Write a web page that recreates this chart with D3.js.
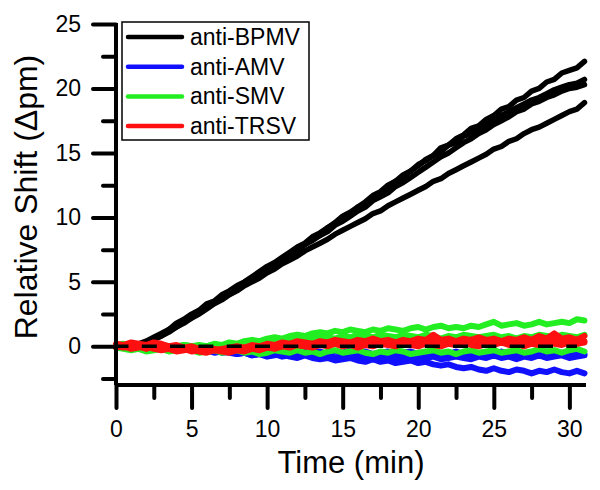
<!DOCTYPE html>
<html>
<head>
<meta charset="utf-8">
<script src="https://cdn.jsdelivr.net/npm/d3@7"></script>
<style>
  html, body { margin: 0; padding: 0; background: #fff; }
  svg { display: block; }
  text { font-family: "Liberation Sans", Arial, sans-serif; fill: #000; }
</style>
</head>
<body>
<svg id="chart" width="600" height="490"></svg>
<script>
// ---------------- DATA ----------------
const time = [
  0, 0.5, 1, 1.5, 2, 2.5, 3, 3.5, 4, 4.5,
  5, 5.5, 6, 6.5, 7, 7.5, 8, 8.5, 9, 9.5,
  10, 10.5, 11, 11.5, 12, 12.5, 13, 13.5, 14, 14.5,
  15, 15.5, 16, 16.5, 17, 17.5, 18, 18.5, 19, 19.5,
  20, 20.5, 21, 21.5, 22, 22.5, 23, 23.5, 24, 24.5,
  25, 25.5, 26, 26.5, 27, 27.5, 28, 28.5, 29, 29.5,
  30, 30.5, 31
];

const bpmv1 = [
  0.1, 0.0, 0.1, 0.1, 0.3, 0.6, 0.8, 1.3, 1.6, 2.0,
  2.3, 2.7, 3.1, 3.4, 3.8, 4.1, 4.6, 4.8, 5.3, 5.6,
  6.1, 6.3, 6.8, 7.0, 7.6, 7.9, 8.4, 8.6, 9.2, 9.5,
  10.0, 10.2, 10.8, 11.0, 11.6, 11.9, 12.3, 12.8, 13.1, 13.6,
  14.0, 14.5, 14.8, 15.4, 15.6, 16.1, 16.4, 16.9, 17.1, 17.6,
  17.9, 18.4, 18.6, 19.1, 19.3, 19.8, 20.0, 20.5, 20.7, 21.2,
  21.4, 21.6, 22.1
];
const bpmv2 = [
  0.0, 0.1, 0.0, 0.2, 0.4, 0.7, 1.0, 1.3, 1.8, 2.1,
  2.5, 2.8, 3.3, 3.5, 4.0, 4.3, 4.7, 5.0, 5.4, 5.8,
  6.2, 6.5, 6.9, 7.3, 7.7, 8.0, 8.5, 8.8, 9.2, 9.6,
  10.1, 10.4, 10.8, 11.2, 11.7, 12.0, 12.5, 12.8, 13.3, 13.6,
  14.1, 14.4, 14.8, 15.1, 15.6, 15.8, 16.3, 16.5, 16.9, 17.2,
  17.6, 17.9, 18.2, 18.5, 18.8, 19.1, 19.3, 19.6, 19.9, 20.1,
  20.3, 20.4, 20.7
];
const bpmv3 = [
  0.0, 0.0, 0.1, 0.1, 0.3, 0.5, 0.9, 1.2, 1.5, 1.9,
  2.2, 2.6, 3.0, 3.4, 3.7, 4.1, 4.4, 4.9, 5.2, 5.6,
  5.9, 6.4, 6.7, 7.1, 7.4, 7.9, 8.2, 8.6, 8.9, 9.4,
  9.7, 10.1, 10.5, 10.8, 11.3, 11.6, 11.9, 12.4, 12.7, 13.1,
  13.5, 13.9, 14.3, 14.7, 15.0, 15.4, 15.8, 16.1, 16.5, 16.8,
  17.2, 17.5, 17.8, 18.2, 18.4, 18.8, 19.0, 19.3, 19.5, 19.8,
  20.0, 20.1, 20.3
];
const bpmv4 = [
  0.0, 0.1, 0.0, 0.1, 0.2, 0.5, 0.8, 1.1, 1.5, 1.8,
  2.2, 2.5, 2.9, 3.3, 3.6, 4.0, 4.3, 4.7, 5.0, 5.3,
  5.7, 6.0, 6.4, 6.7, 7.0, 7.4, 7.7, 8.0, 8.3, 8.7,
  9.0, 9.3, 9.6, 9.9, 10.3, 10.5, 10.9, 11.2, 11.5, 11.8,
  12.1, 12.4, 12.8, 13.0, 13.4, 13.7, 14.0, 14.3, 14.6, 14.9,
  15.3, 15.5, 15.9, 16.1, 16.5, 16.8, 17.0, 17.3, 17.6, 17.9,
  18.2, 18.4, 18.9
];

const amv1 = [
  0.1, 0.0, -0.1, 0.0, 0.1, -0.1, 0.0, -0.1, -0.2, -0.1,
  -0.3, -0.2, -0.4, -0.3, -0.5, -0.4, -0.6, -0.5, -0.7, -0.6,
  -0.8, -0.7, -0.6, -0.8, -0.9, -0.7, -0.9, -1.0, -0.9, -1.1,
  -1.0, -0.9, -1.1, -1.2, -1.0, -1.2, -1.1, -1.3, -1.2, -1.1,
  -1.3, -1.2, -1.4, -1.5, -1.4, -1.6, -1.7, -1.6, -1.8, -1.9,
  -1.7, -1.9, -2.0, -1.8, -1.9, -2.1, -1.9, -2.0, -1.8, -2.0,
  -2.1, -1.9, -2.1
];
const amv2 = [
  0.0, -0.1, 0.1, 0.0, -0.1, 0.0, -0.2, -0.1, -0.3, -0.2,
  -0.3, -0.4, -0.3, -0.5, -0.4, -0.5, -0.6, -0.5, -0.7, -0.6,
  -0.7, -0.6, -0.8, -0.7, -0.8, -0.6, -0.7, -0.8, -0.7, -0.9,
  -0.8, -0.7, -0.9, -0.8, -0.7, -0.9, -0.8, -1.0, -0.9, -0.8,
  -1.0, -0.9, -0.8, -1.0, -0.9, -0.8, -0.9, -1.0, -0.8, -0.9,
  -0.7, -0.9, -0.8, -1.0, -0.8, -0.9, -0.7, -0.9, -0.8, -0.7,
  -0.9, -0.8, -0.7
];
const amv3 = [
  0.1, 0.0, 0.1, -0.1, 0.0, 0.1, -0.1, 0.0, -0.1, -0.2,
  -0.1, -0.2, -0.3, -0.2, -0.3, -0.2, -0.4, -0.3, -0.2, -0.4,
  -0.3, -0.4, -0.3, -0.5, -0.4, -0.3, -0.5, -0.4, -0.6, -0.4,
  -0.5, -0.3, -0.5, -0.4, -0.6, -0.5, -0.4, -0.6, -0.5, -0.4,
  -0.6, -0.5, -0.7, -0.5, -0.6, -0.4, -0.6, -0.5, -0.7, -0.5,
  -0.6, -0.4, -0.6, -0.5, -0.7, -0.5, -0.6, -0.4, -0.6, -0.5,
  -0.7, -0.5, -0.6
];

const smv1 = [
  0.1, 0.2, 0.0, 0.1, -0.1, 0.0, 0.1, 0.0, -0.1, 0.1,
  0.0, 0.1, 0.0, 0.2, 0.1, 0.3, 0.2, 0.4, 0.5, 0.4,
  0.6, 0.7, 0.6, 0.8, 0.9, 0.8, 1.0, 1.1, 1.0, 1.2,
  1.1, 1.3, 1.2, 1.1, 1.3, 1.2, 1.4, 1.3, 1.2, 1.4,
  1.5, 1.3, 1.5, 1.6, 1.4, 1.5, 1.4, 1.6, 1.5, 1.7,
  1.9, 1.6, 1.7, 1.8, 1.6, 1.7, 1.9, 1.7, 1.8, 1.9,
  1.8, 2.1, 2.0
];
const smv2 = [
  -0.1, -0.2, -0.3, -0.2, -0.4, -0.3, -0.2, -0.4, -0.3, -0.2,
  -0.3, -0.5, -0.4, -0.3, -0.5, -0.4, -0.3, -0.5, -0.4, -0.6,
  -0.5, -0.3, -0.4, -0.5, -0.3, -0.5, -0.4, -0.6, -0.4, -0.3,
  -0.5, -0.4, -0.3, -0.5, -0.6, -0.4, -0.5, -0.3, -0.4, -0.6,
  -0.5, -0.4, -0.3, -0.5, -0.4, -0.6, -0.4, -0.3, -0.5, -0.4,
  -0.3, -0.5, -0.4, -0.3, -0.5, -0.4, -0.2, -0.4, -0.3, -0.5,
  -0.3, -0.2, -0.4
];
const smv3 = [
  0.0, 0.1, 0.2, 0.1, 0.0, 0.1, 0.0, -0.1, 0.0, 0.1,
  0.0, -0.1, 0.0, 0.1, 0.0, 0.2, 0.1, 0.3, 0.2, 0.4,
  0.3, 0.5, 0.4, 0.6, 0.5, 0.7, 0.6, 0.8, 0.7, 0.6,
  0.8, 0.7, 0.9, 0.8, 0.7, 0.9, 0.8, 0.7, 0.9, 0.8,
  0.7, 0.9, 0.8, 0.6, 0.8, 0.7, 0.9, 0.8, 0.7, 0.8,
  0.9, 0.7, 0.8, 0.6, 0.8, 0.7, 0.9, 0.8, 0.7, 0.9,
  0.8, 0.7, 0.9
];

const trsv1 = [
  0.2, 0.1, 0.3, 0.2, 0.1, 0.3, 0.2, 0.0, 0.1, -0.1,
  0.0, -0.2, -0.1, -0.3, -0.2, -0.1, 0.0, -0.1, 0.1, 0.0,
  0.2, 0.1, 0.3, 0.2, 0.4, 0.3, 0.2, 0.4, 0.3, 0.5,
  0.4, 0.3, 0.5, 0.4, 0.6, 0.4, 0.5, 0.3, 0.5, 0.4,
  0.6, 0.5, 0.9, 0.5, 0.6, 0.4, 0.6, 0.5, 0.7, 0.5,
  0.6, 0.4, 0.6, 0.5, 0.7, 0.5, 0.8, 0.6, 1.0, 0.6,
  0.7, 0.5, 0.8
];
const trsv2 = [
  0.0, -0.1, 0.1, 0.0, -0.2, 0.0, -0.1, -0.2, -0.3, -0.2,
  -0.4, -0.3, -0.4, -0.2, -0.3, -0.2, -0.3, -0.1, -0.2, 0.0,
  -0.1, 0.1, 0.0, 0.2, 0.1, 0.0, 0.2, 0.1, 0.3, 0.2,
  0.1, 0.3, 0.2, 0.1, 0.3, 0.2, 0.4, 0.2, 0.3, 0.1,
  0.3, 0.2, 0.4, 0.3, 0.2, 0.4, 0.3, 0.5, 0.3, 0.2,
  0.4, 0.3, 0.5, 0.3, 0.4, 0.2, 0.4, 0.3, 0.5, 0.4,
  0.3, 0.5, 0.4
];
const trsv3 = [
  -0.1, 0.0, -0.2, -0.1, 0.0, -0.2, -0.3, -0.2, -0.4, -0.3,
  -0.2, -0.4, -0.5, -0.3, -0.4, -0.5, -0.3, -0.4, -0.2, -0.3,
  -0.1, -0.2, 0.0, -0.1, 0.1, 0.0, -0.1, 0.1, 0.0, 0.2,
  0.0, 0.1, -0.1, 0.1, 0.0, 0.2, 0.1, 0.0, 0.2, 0.1,
  0.0, 0.2, 0.1, 0.0, 0.2, 0.1, 0.3, 0.1, 0.0, 0.2,
  0.1, 0.3, 0.1, 0.2, 0.0, 0.2, 0.1, 0.3, 0.2, 0.1,
  0.3, 0.2, 0.3
];

const seriesNames = ["anti-BPMV", "anti-AMV", "anti-SMV", "anti-TRSV"];
const seriesColors = ["#000000", "#1010ff", "#22ee22", "#ff1010"];
const seriesTraces = [
  [bpmv1, bpmv2, bpmv3, bpmv4],
  [amv1, amv2, amv3],
  [smv1, smv2, smv3],
  [trsv1, trsv2, trsv3]
];

const xTicks = [0, 5, 10, 15, 20, 25, 30];
const xMinorTicks = [2.5, 7.5, 12.5, 17.5, 22.5, 27.5];
const yTicks = [0, 5, 10, 15, 20, 25];
const yMinorTicks = [-2.5, 2.5, 7.5, 12.5, 17.5, 22.5];
const baselineRange = [0, 30.5];

// ---------------- CHART ----------------
const svg = d3.select("#chart");
const x = d3.scaleLinear().domain([0, 31.1]).range([116, 586]);
const y = d3.scaleLinear().domain([-3, 25]).range([385, 24]);

const line = d3.line().x((d, i) => x(time[i])).y(d => y(d));

const plot = svg.append("g");
seriesTraces.forEach((traces, s) => {
  traces.forEach(tr => {
    plot.append("path")
      .datum(tr)
      .attr("d", line)
      .attr("fill", "none")
      .attr("stroke", seriesColors[s])
      .attr("stroke-width", s === 0 ? 5.5 : 6)
      .attr("stroke-linejoin", "round")
      .attr("stroke-linecap", "round");
  });
});

// dashed zero line
svg.append("line")
  .attr("x1", x(baselineRange[0])).attr("x2", x(baselineRange[1]))
  .attr("y1", y(0)).attr("y2", y(0))
  .attr("stroke", "#000").attr("stroke-width", 3.5)
  .attr("stroke-dasharray", "15,13.3")
  .attr("stroke-dashoffset", 2.5);

// axes
function styleAxis(g) {
  g.selectAll(".domain").attr("stroke", "#000").attr("stroke-width", 4);
  g.selectAll(".tick line").attr("stroke", "#000").attr("stroke-width", 4).attr("stroke-linecap", "round");
  g.selectAll(".tick text").style("font-size", "23px").style("font-family", "'Liberation Sans', Arial, sans-serif");
}

const xAxis = svg.append("g").attr("transform", `translate(0,${y(-3)})`)
  .call(d3.axisBottom(x).tickValues(xTicks).tickSize(23).tickPadding(13).tickFormat(d3.format("d")));
styleAxis(xAxis);
xAxis.select(".domain").attr("d", `M${x(0)},0H${x(31.1)}`);

const xMinor = svg.append("g").attr("transform", `translate(0,${y(-3)})`)
  .call(d3.axisBottom(x).tickValues(xMinorTicks).tickSize(13).tickFormat(""));
styleAxis(xMinor);
xMinor.select(".domain").remove();

const yAxis = svg.append("g").attr("transform", `translate(${x(0)},0)`)
  .call(d3.axisLeft(y).tickValues(yTicks).tickSize(23).tickPadding(12).tickFormat(d3.format("d")));
styleAxis(yAxis);
yAxis.select(".domain").attr("d", `M0,${y(-3)}V${y(25) - 1}`);

const yMinor = svg.append("g").attr("transform", `translate(${x(0)},0)`)
  .call(d3.axisLeft(y).tickValues(yMinorTicks).tickSize(13).tickFormat(""));
styleAxis(yMinor);
yMinor.select(".domain").remove();

// axis titles
svg.append("text")
  .attr("x", 351).attr("y", 473)
  .attr("text-anchor", "middle")
  .style("font-size", "31px")
  .text("Time (min)");

svg.append("text")
  .attr("transform", "translate(37,197) rotate(-90)")
  .attr("text-anchor", "middle")
  .style("font-size", "32px")
  .text("Relative Shift (\u0394pm)");

// legend
const legend = svg.append("g");
legend.append("rect")
  .attr("x", 122).attr("y", 22).attr("width", 187).attr("height", 118)
  .attr("fill", "#fff").attr("stroke", "#000").attr("stroke-width", 1.5);
seriesNames.forEach((name, i) => {
  const ly = 37 + i * 29.7;
  legend.append("line")
    .attr("x1", 128).attr("x2", 182).attr("y1", ly).attr("y2", ly)
    .attr("stroke", seriesColors[i]).attr("stroke-width", 4.5)
    .attr("stroke-linecap", "round");
  legend.append("text")
    .attr("x", 190).attr("y", ly).attr("dy", "0.35em")
    .style("font-size", "23px")
    .text(name);
});
</script>
</body>
</html>
